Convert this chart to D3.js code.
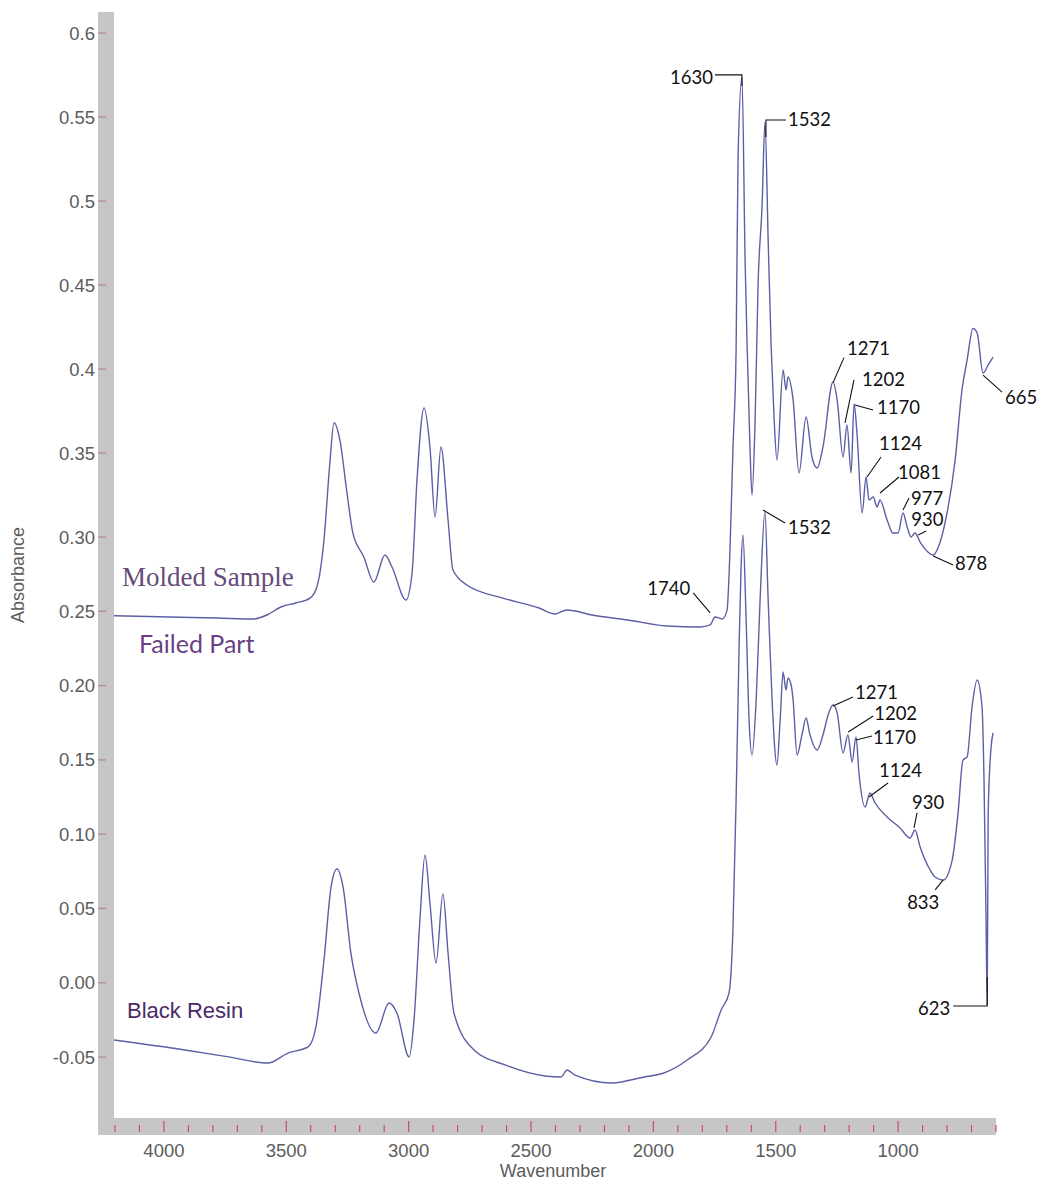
<!DOCTYPE html>
<html lang="en">
<head>
<meta charset="UTF-8">
<title>FTIR spectra</title>
<script src="https://d3js.org/d3.v7.min.js"></script>
<style>
  body { margin: 0; background: #fff; }
  svg { display: block; }
</style>
</head>
<body>
<svg id="chart" width="1041" height="1180"></svg>
<script>
// [wavenumber, absorbance]
const moldedSpectrum = [
  [4204,0.247],[3931,0.246],[3783,0.2455],[3636,0.2448],[3579,0.2475],[3522,0.2529],[3461,0.2556],
  [3403,0.2589],[3375,0.2664],[3346,0.298],[3322,0.344],[3305,0.368],[3281,0.3577],[3252,0.3262],
  [3228,0.3024],[3183,0.2865],[3142,0.2697],[3097,0.2879],[3068,0.2798],[3011,0.2576],[2986,0.2758],
  [2966,0.3339],[2937,0.3768],[2913,0.3536],[2892,0.3119],[2868,0.3536],[2839,0.3101],[2819,0.2778],
  [2762,0.2677],[2615,0.2589],[2467,0.2522],[2402,0.2482],[2353,0.2509],[2251,0.2475],[2104,0.2441],
  [1944,0.2401],[1809,0.2394],[1768,0.2408],[1748,0.2462],[1719,0.2448],[1699,0.2508],[1687,0.2913],
  [1675,0.3518],[1662,0.4113],[1654,0.5262],[1638,0.5738],[1625,0.4629],[1617,0.4143],[1605,0.3518],
  [1597,0.325],[1584,0.3714],[1572,0.4512],[1556,0.4964],[1544,0.547],[1531,0.4768],[1519,0.4143],
  [1507,0.3714],[1495,0.3458],[1470,0.3994],[1458,0.3875],[1450,0.3952],[1429,0.3815],[1405,0.3381],
  [1376,0.3714],[1352,0.3476],[1331,0.3411],[1307,0.3536],[1266,0.3923],[1249,0.3816],[1225,0.3476],
  [1209,0.3667],[1192,0.3381],[1180,0.3794],[1168,0.3616],[1147,0.3143],[1131,0.3357],[1119,0.322],
  [1102,0.3238],[1086,0.3179],[1074,0.322],[1045,0.3101],[1021,0.3024],[1000,0.3024],[980,0.3143],
  [963,0.306],[947,0.3],[931,0.3024],[910,0.2966],[857,0.2879],[837,0.2926],[800,0.3143],[767,0.3458],
  [739,0.3875],[718,0.4054],[694,0.4241],[677,0.4214],[653,0.3976],[632,0.4024],[612,0.4071]
];

const resinSpectrum = [
  [4204,-0.0385],[3914,-0.0452],[3735,-0.0499],[3575,-0.054],[3493,-0.0473],[3411,-0.0432],
  [3379,-0.0298],[3346,0.0153],[3317,0.0645],[3293,0.0766],[3268,0.0645],[3236,0.02],[3203,-0.0069],
  [3134,-0.0338],[3080,-0.0136],[3048,-0.0203],[2998,-0.0499],[2978,-0.025],[2954,0.0423],[2933,0.086],
  [2913,0.0537],[2888,0.0133],[2860,0.0598],[2839,0.02],[2815,-0.0203],[2733,-0.0452],[2606,-0.0553],
  [2443,-0.0627],[2377,-0.0634],[2353,-0.0587],[2320,-0.0621],[2169,-0.0674],[2038,-0.0634],
  [1957,-0.0607],[1862,-0.052],[1764,-0.0365],[1723,-0.0183],[1691,-0.0069],[1675,0.0355],[1662,0.123],
  [1650,0.224],[1642,0.2778],[1634,0.3012],[1621,0.2441],[1609,0.1768],[1597,0.1533],[1580,0.1903],
  [1564,0.2576],[1544,0.3149],[1531,0.2576],[1515,0.1903],[1495,0.1466],[1482,0.1768],[1470,0.2091],
  [1458,0.197],[1450,0.2051],[1437,0.2004],[1429,0.1903],[1413,0.1533],[1393,0.1668],[1376,0.1782],
  [1360,0.1668],[1331,0.1567],[1307,0.1668],[1286,0.1802],[1266,0.1869],[1249,0.1816],[1225,0.1546],
  [1205,0.1668],[1188,0.1486],[1172,0.1654],[1160,0.1412],[1135,0.1183],[1115,0.1277],[1094,0.121],
  [1045,0.1116],[992,0.1042],[951,0.0974],[931,0.1028],[910,0.0914],[869,0.0759],[849,0.0712],
  [816,0.0692],[779,0.0826],[755,0.1143],[735,0.1499],[718,0.152],[698,0.1856],[677,0.2038],
  [657,0.1856],[649,0.1365],[641,0.047],[636,-0.0149],[632,0.1143],[620,0.1587],[612,0.1681]
];

const yTickValues = [0.6, 0.55, 0.5, 0.45, 0.4, 0.35, 0.30, 0.25, 0.20, 0.15, 0.10, 0.05, 0.00, -0.05];
const yTickLabels = ["0.6", "0.55", "0.5", "0.45", "0.4", "0.35", "0.30", "0.25", "0.20", "0.15", "0.10", "0.05", "0.00", "-0.05"];
const xMajorTicks = [4000, 3500, 3000, 2500, 2000, 1500, 1000];

// peak labels: text and the point on the trace the leader points to
const peakText = ["1630", "1532", "1271", "1202", "1170", "1124", "1081", "977", "930", "878", "665", "1740",
                  "1532", "1271", "1202", "1170", "1124", "930", "833", "623"];
const peakTarget = [
  [1638,0.5685],[1540,0.5381],[1266,0.3919],[1217,0.3679],[1176,0.3786],[1127,0.3357],[1074,0.3262],
  [980,0.3161],[918,0.3012],[857,0.2872],[653,0.3964],[1768,0.2489],
  [1552,0.3161],[1266,0.1863],[1204,0.1688],[1172,0.1634],[1119,0.125],[935,0.1042],[816,0.0692],[636,0.0039]
];

const seriesNames = ["Molded Sample", "Failed Part", "Black Resin"];

// layout of the peak labels (pixels relative to the target)
// [leader dx, leader dy, text dx, text dy, anchor, elbow]
const peakLayout = [
  [-27,-11,-29,-9,"end",true],[20,-17,22,-18,"start",true],[11,-25,14,-35,"start",false],
  [9,-43,17,-44,"start",false],[18,5,22,2,"start",false],[14,-20,12,-34,"start",false],
  [19,-16,18,-21,"start",false],[6,-12,8,-12,"start",false],[8,-4,-7,-16,"start",false],
  [20,9,22,7,"start",false],[19,17,22,22,"start",false],[-17,-20,-20,-25,"end",false],
  [22,13,25,17,"start",false],[20,-9,22,-14,"start",false],[25,-16,26,-19,"start",false],
  [16,-4,17,-3,"start",false],[19,-14,10,-27,"start",false],[3,-15,-2,-26,"start",false],
  [-8,10,-36,22,"start",false],[-34,29,-37,31,"end",true]
];

const svg = d3.select("#chart");

const x = d3.scaleLinear().domain([4204, 600]).range([114, 996]);
// the y axis is two pasted pieces with different spacing above and below 0.30
const y = d3.scaleLinear().domain([-0.091, 0.30, 0.6125]).range([1118, 537, 12]);

const gray = "#c6c6c6";
svg.append("rect").attr("x", 98).attr("y", 12).attr("width", 16).attr("height", 1123).attr("fill", gray);
svg.append("rect").attr("x", 98).attr("y", 1118).attr("width", 898).attr("height", 17).attr("fill", gray);

// y ticks
const yAxis = svg.append("g");
yTickValues.forEach((v, i) => {
  yAxis.append("line")
    .attr("x1", 98).attr("x2", 106)
    .attr("y1", y(v)).attr("y2", y(v))
    .attr("stroke", "#b88890").attr("stroke-width", 1.3);
  yAxis.append("text")
    .attr("x", 95).attr("y", y(v))
    .attr("text-anchor", "end").attr("dominant-baseline", "central")
    .attr("font-family", "Liberation Sans, Arial, sans-serif").attr("font-size", 18.5)
    .attr("fill", "#5c5c5c")
    .text(yTickLabels[i]);
});

// x ticks
const xAxis = svg.append("g");
d3.range(4200, 599, -100).forEach(v => {
  const major = xMajorTicks.includes(v);
  xAxis.append("line")
    .attr("x1", x(v)).attr("x2", x(v))
    .attr("y1", major ? 1121 : 1125).attr("y2", 1132)
    .attr("stroke", "#c8505e").attr("stroke-width", 1.2);
});
xMajorTicks.forEach(v => {
  xAxis.append("text")
    .attr("x", x(v)).attr("y", 1150)
    .attr("text-anchor", "middle").attr("dominant-baseline", "central")
    .attr("font-family", "Liberation Sans, Arial, sans-serif").attr("font-size", 18.5)
    .attr("fill", "#5c5c5c")
    .text(v);
});

svg.append("text")
  .attr("x", 553).attr("y", 1171)
  .attr("text-anchor", "middle").attr("dominant-baseline", "central")
  .attr("font-family", "Liberation Sans, Arial, sans-serif").attr("font-size", 18)
  .attr("fill", "#5c5c5c")
  .text("Wavenumber");

svg.append("text")
  .attr("transform", "translate(18,575) rotate(-90)")
  .attr("text-anchor", "middle").attr("dominant-baseline", "central")
  .attr("font-family", "Liberation Sans, Arial, sans-serif").attr("font-size", 18)
  .attr("fill", "#5c5c5c")
  .text("Absorbance");

// spectra
const line = d3.line()
  .x(d => x(d[0]))
  .y(d => y(d[1]))
  .curve(d3.curveMonotoneX);

[moldedSpectrum, resinSpectrum].forEach(s => {
  svg.append("path")
    .datum(s)
    .attr("d", line)
    .attr("fill", "none")
    .attr("stroke", "#5b5fa6")
    .attr("stroke-width", 1.4)
    .attr("stroke-linejoin", "round");
});

// peak labels
const notes = svg.append("g");
peakText.forEach((t, i) => {
  const [wn, a] = peakTarget[i];
  const [ldx, ldy, tdx, tdy, anchor, elbow] = peakLayout[i];
  const px = x(wn), py = y(a);
  const d = elbow
    ? `M${px + ldx},${py + ldy}H${px}V${py}`
    : `M${px + ldx},${py + ldy}L${px},${py}`;
  notes.append("path")
    .attr("d", d)
    .attr("fill", "none")
    .attr("stroke", "#111")
    .attr("stroke-width", 1.1);
  notes.append("text")
    .attr("x", px + tdx).attr("y", py + tdy)
    .attr("text-anchor", anchor).attr("dominant-baseline", "central")
    .attr("font-family", "Lato, Open Sans, sans-serif").attr("font-size", 18.5)
    .attr("fill", "#111")
    .text(t);
});

// series names
svg.append("text")
  .attr("x", 122).attr("y", 577)
  .attr("dominant-baseline", "central")
  .attr("font-family", "Liberation Serif, serif").attr("font-size", 27)
  .attr("fill", "#664a7a")
  .text(seriesNames[0]);

svg.append("text")
  .attr("x", 139).attr("y", 643)
  .attr("dominant-baseline", "central")
  .attr("font-family", "Lato, sans-serif").attr("font-size", 25)
  .attr("fill", "#6a3f86")
  .text(seriesNames[1]);

svg.append("text")
  .attr("x", 127).attr("y", 1010)
  .attr("dominant-baseline", "central")
  .attr("font-family", "Liberation Sans, Arial, sans-serif").attr("font-size", 22)
  .attr("fill", "#4b2a64")
  .text(seriesNames[2]);
</script>
</body>
</html>
